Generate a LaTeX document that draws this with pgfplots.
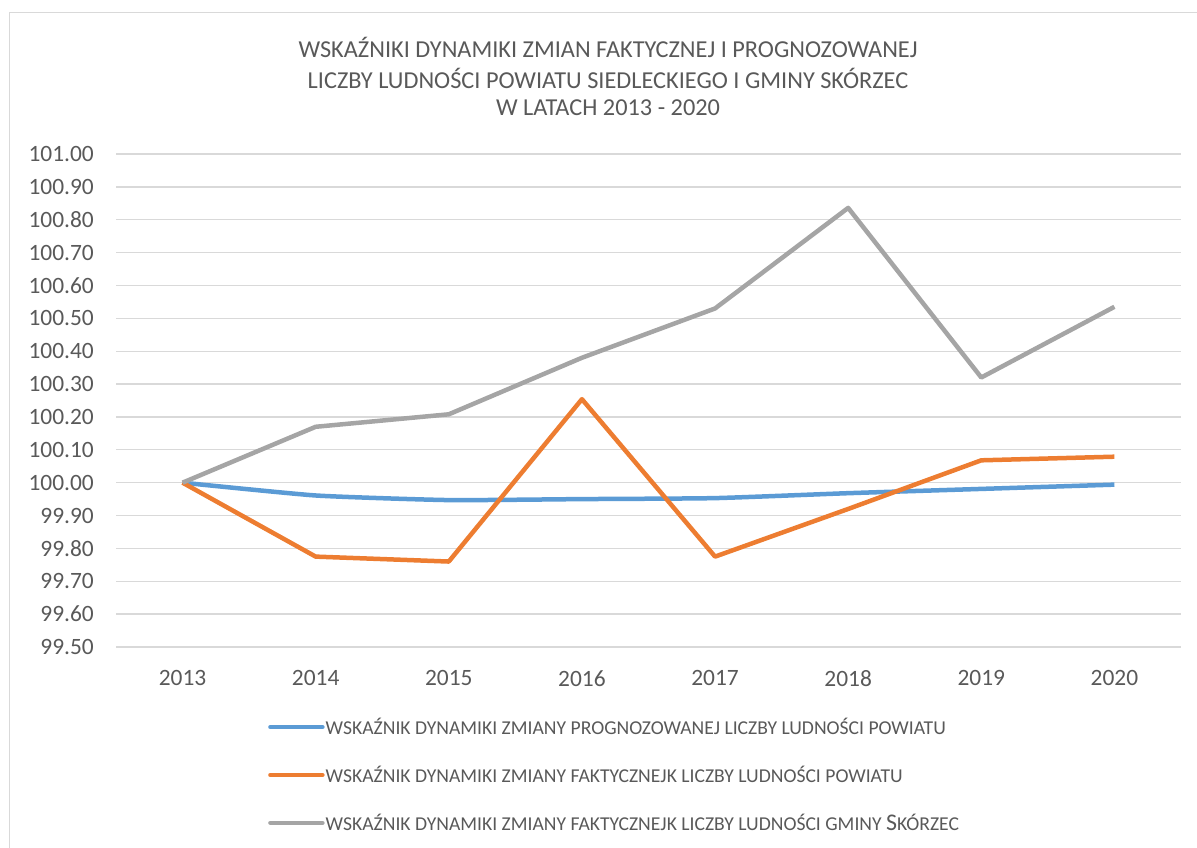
\documentclass[border=0pt]{standalone}
\usepackage{pgfplots}
\pgfplotsset{compat=1.18}
\usepackage{fontspec}
\setmainfont{Carlito}
\definecolor{cblue}{HTML}{5B9BD5}
\definecolor{corange}{HTML}{ED7D31}
\definecolor{cgray}{HTML}{A5A5A5}
\definecolor{ctext}{HTML}{595959}
\definecolor{cgrid}{HTML}{D9D9D9}
\begin{document}
\begin{tikzpicture}
\path[use as bounding box] (0bp,0bp) rectangle (1197bp,848bp);
\draw[cgrid, line width=1.5bp] (9.5bp,0bp) -- (9.5bp,835.5bp) -- (1197bp,835.5bp);
\begin{scope}[every node/.style={text=ctext, font=\fontsize{24.4}{28}\selectfont}]
\node at (608bp,801bp) {WSKAŹNIKI DYNAMIKI ZMIAN FAKTYCZNEJ I PROGNOZOWANEJ};
\node at (608bp,770bp) {LICZBY LUDNOŚCI POWIATU SIEDLECKIEGO I GMINY SKÓRZEC};
\node at (608bp,740bp) {W LATACH 2013 - 2020};
\end{scope}
\begin{axis}[
  at={(116bp,201bp)}, anchor=south west,
  scale only axis, width=1065bp, height=493bp,
  xmin=-0.5, xmax=7.5, ymin=99.5, ymax=101.0,
  xtick={0,1,2,3,4,5,6,7},
  xticklabels={2013,2014,2015,2016,2017,2018,2019,2020},
  ytick={99.5,99.6,99.7,99.8,99.9,100,100.1,100.2,100.3,100.4,100.5,100.6,100.7,100.8,100.9,101},
  yticklabel={\pgfmathprintnumber[fixed,fixed zerofill,precision=2,assume math mode=true]{\tick}},
  ymajorgrids, grid style={cgrid, line width=1.3bp},
  axis line style={draw=none},
  major tick length=0pt,
  tick label style={text=ctext, font=\fontsize{23.5}{28}\selectfont},
  yticklabel style={anchor=east, inner sep=0pt, xshift=-22bp},
  xticklabel style={anchor=north, inner sep=0pt, yshift=-23bp},
  clip=false,
  legend style={at={(axis description cs:0.1427,-0.2596)}, anchor=west,
    draw=none, fill=none, inner sep=0pt, row sep=28bp,
    nodes={inner sep=1bp, text=ctext},
    font=\fontsize{19.7}{23}\selectfont},
  legend cell align=left,
  legend image code/.code={\draw[#1, line width=4.5bp, line cap=round] (0bp,0bp) -- (52bp,0bp);},
]
\addplot[cblue, line width=4.5bp, line join=round, smooth, tension=0.3] coordinates {
(0,100.000) (1,99.961) (2,99.947) (3,99.950) (4,99.953) (5,99.968) (6,99.981) (7,99.994)};
\addlegendentry{WSKAŹNIK DYNAMIKI ZMIANY PROGNOZOWANEJ LICZBY LUDNOŚCI POWIATU}
\addplot[corange, line width=4.5bp, line join=round] coordinates {
(0,100.000) (1,99.775) (2,99.760) (3,100.254) (4,99.775) (5,99.920) (6,100.068) (7,100.079)};
\addlegendentry{WSKAŹNIK DYNAMIKI ZMIANY FAKTYCZNEJK LICZBY LUDNOŚCI POWIATU}
\addplot[cgray, line width=4.5bp, line join=round] coordinates {
(0,100.000) (1,100.170) (2,100.208) (3,100.380) (4,100.530) (5,100.836) (6,100.320) (7,100.535)};
\addlegendentry{WSKAŹNIK DYNAMIKI ZMIANY FAKTYCZNEJK LICZBY LUDNOŚCI GMINY {\fontsize{24}{23}\selectfont S}KÓRZEC}
\end{axis}
\end{tikzpicture}
\end{document}
